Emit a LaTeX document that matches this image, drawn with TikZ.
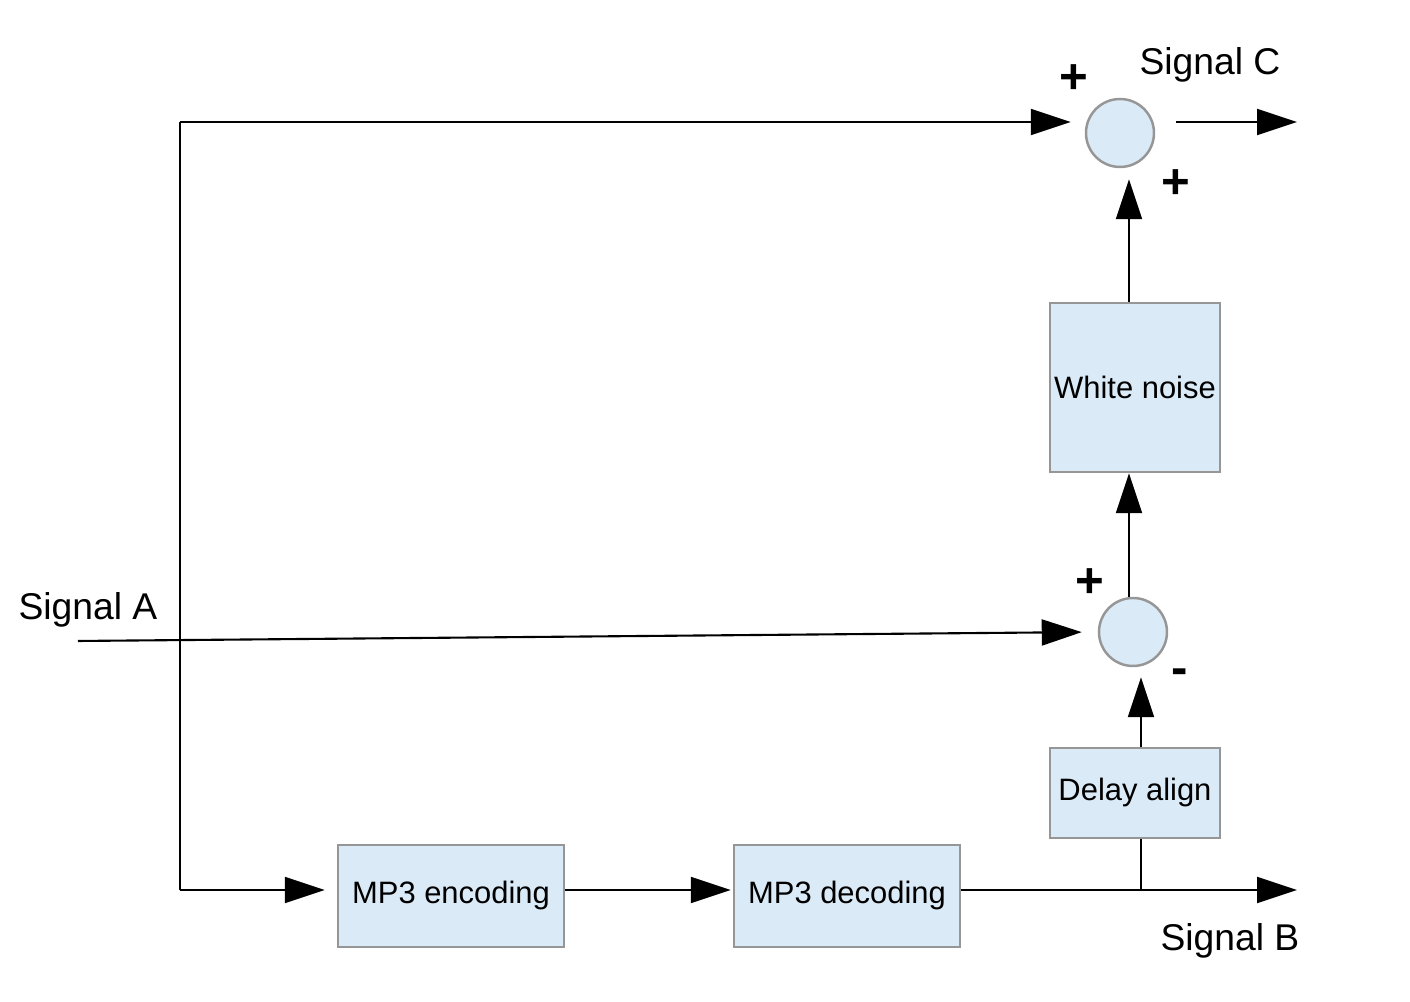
\documentclass[tikz,border=0pt]{standalone}
\usepackage{fontspec}
\setmainfont{Liberation Sans}
\usetikzlibrary{arrows.meta,calc}
\definecolor{BlockFill}{RGB}{218,234,246}
\definecolor{BlockDraw}{RGB}{150,150,150}
\begin{document}
\begin{tikzpicture}[x=1cm,y=1cm,line width=0.6pt,
  blk/.style n args={2}{rectangle,draw=BlockDraw,fill=BlockFill,line width=0.7pt,minimum width=#1cm,minimum height=#2cm,inner sep=0pt,font=\fontsize{8.8pt}{10pt}\selectfont},
  sum/.style={circle,draw=BlockDraw,fill=BlockFill,line width=0.7pt,minimum size=0.68cm,inner sep=0pt},
  sig/.style={-{Triangle[length=0.4cm,width=0.26cm]}},
  lbl/.style={font=\fontsize{10.6pt}{12pt}\selectfont},
  sgn/.style={font=\bfseries\fontsize{14pt}{16pt}\selectfont,inner sep=0pt}]
\useasboundingbox (0,0) rectangle (14.10,10.02);
% blocks
\node[sum](sumup) at (11.20,8.69) {};
\node[sum](sumlow) at (11.33,3.70) {};
\node[blk={1.70}{1.69}](noise) at (11.35,6.145) {White noise};
\node[blk={1.70}{0.90}](delay) at (11.35,2.09) {Delay align};
\node[blk={2.26}{1.02}](enc) at (4.51,1.06) {\raisebox{-0.03cm}{MP3 encoding}};
\node[blk={2.26}{1.02}](dec) at (8.47,1.06) {\raisebox{-0.03cm}{MP3 decoding}};
% free ends
\coordinate (inA) at (0.78,3.61);
\coordinate (top) at (1.80,8.80);
\coordinate (corner) at (1.80,1.12);
\coordinate (tap) at (11.41,1.12);
\coordinate (outB) at (12.97,1.12);
\coordinate (outC) at (12.97,8.80);
\coordinate (upx) at (11.29,0);
% labels
\node[lbl](sA) at (0.88,3.92) {Signal A};
\node[lbl](sB) at (12.30,0.61) {Signal B};
\node[lbl](sC) at (12.10,9.37) {Signal C};
\foreach \n/\x/\y/\s in {p1/10.74/9.23/+,p2/11.76/8.18/+,p3/10.90/4.19/+,m1/11.80/3.25/-} {
   \node[sgn](\n) at (\x,\y) {\s};
}
% connectors
\draw (top) -- (corner);
\draw[sig,shorten >=0.14cm] (top) -- (top -| sumup.west);
\draw[sig,shorten <=0.21cm] (sumup.east |- outC) -- (outC);
\draw[sig,shorten >=0.16cm] (inA) -- (sumlow.west);
\draw[sig] (corner) -- ($(corner -| enc.west)+(-0.12,0)$);
\draw[sig] (enc.east |- corner) -- ($(dec.west |- corner)+(-0.02,0)$);
\draw[sig] (dec.east |- corner) -- (outB);
\draw (delay.south -| tap) -- (tap);
\draw[sig,shorten >=0.1cm] (delay.north -| tap) -- (sumlow.south -| tap);
\draw[sig] (sumlow.north -| upx) -- (noise.south -| upx);
\draw[sig,shorten >=0.11cm] (noise.north -| upx) -- (sumup.south -| upx);
\end{tikzpicture}
\end{document}
